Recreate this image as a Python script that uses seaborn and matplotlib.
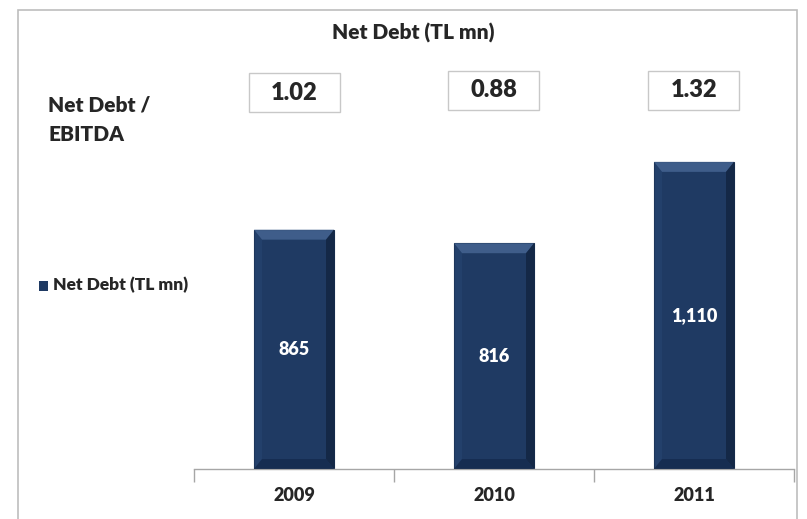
import matplotlib
matplotlib.use("Agg")
import matplotlib.pyplot as plt
import seaborn as sns
import pandas as pd
from matplotlib.patches import Rectangle, Polygon
from matplotlib.transforms import blended_transform_factory

# Dados
years = ["2009", "2010", "2011"]
net_debt = [865, 816, 1110]
net_debt_labels = ["865", "816", "1,110"]
ratio_labels = ["1.02", "0.88", "1.32"]

BAR_COLOR = "#1f3a63"
FONT = ["Lato", "DejaVu Sans"]
W = "heavy"

sns.set_style("white")
plt.rcParams["font.family"] = FONT

df = pd.DataFrame({"Year": years, "Net Debt": net_debt})

fig = plt.figure(figsize=(8.07, 5.19), dpi=100)
ax = fig.add_axes([194 / 807, 50 / 519, 600 / 807, 332 / 519])

sns.barplot(data=df, x="Year", y="Net Debt", color=BAR_COLOR, width=0.4,
            saturation=1, edgecolor="#142a4a", linewidth=0.8, ax=ax)

ax.set_xlim(-0.5, 2.5)
ax.set_ylim(0, 1200)
ax.set_xlabel("")
ax.set_ylabel("")
ax.set_yticks([])
for side in ["top", "left", "right"]:
    ax.spines[side].set_visible(False)
ax.spines["bottom"].set_color("#a6a6a6")
ax.spines["bottom"].set_linewidth(1.0)

# marcas entre categorias
ax.set_xticks([-0.5, 0.5, 1.5, 2.5], minor=True)
ax.tick_params(axis="x", which="minor", bottom=True, length=9, color="#a6a6a6",
               width=1.0, direction="out")
ax.tick_params(axis="x", which="major", length=0, pad=13)
for lbl in ax.get_xticklabels():
    lbl.set_fontweight(W)
    lbl.set_fontsize(13)

# efeito de chanfro nas barras
for patch in ax.patches:
    x0, w, h = patch.get_x(), patch.get_width(), patch.get_height()
    bx, by = w * 0.1, 36
    x1 = x0 + w
    ax.add_patch(Polygon([(x0, h), (x1, h), (x1 - bx, h - by), (x0 + bx, h - by)],
                         closed=True, facecolor="#4a6a98", edgecolor="none", alpha=0.75, zorder=3))
    ax.add_patch(Polygon([(x1, h), (x1, 0), (x1 - bx, by), (x1 - bx, h - by)],
                         closed=True, facecolor="#0c1a30", edgecolor="none", alpha=0.55, zorder=3))
    ax.add_patch(Polygon([(x0, h), (x0, 0), (x0 + bx, by), (x0 + bx, h - by)],
                         closed=True, facecolor="#2b4a78", edgecolor="none", alpha=0.4, zorder=3))
    ax.add_patch(Polygon([(x0, 0), (x1, 0), (x1 - bx, by), (x0 + bx, by)],
                         closed=True, facecolor="#13284a", edgecolor="none", alpha=0.7, zorder=3))

# valores dentro das barras
for i, (v, lab) in enumerate(zip(net_debt, net_debt_labels)):
    ax.text(i, v / 2, lab, ha="center", va="center", color="white",
            fontsize=13, fontweight=W, zorder=4)

# caixas com Net Debt / EBITDA
trans = blended_transform_factory(ax.transData, fig.transFigure)
box_y = [1 - 112 / 519, 1 - 110 / 519, 1 - 110 / 519]
for i, (lab, yb) in enumerate(zip(ratio_labels, box_y)):
    fig.add_artist(Rectangle((i - 0.2275, yb), 0.455, 39 / 519, transform=trans,
                             facecolor="white", edgecolor="#c8c8c8", linewidth=1.0))
    fig.text(i, yb + 19.5 / 519, lab, transform=trans, fontsize=17, fontweight=W,
             ha="center", va="center")

fig.text(413 / 807, 1 - 33 / 519, "Net Debt (TL mn)", ha="center", va="center",
         fontsize=15, fontweight=W)
fig.text(48 / 807, 1 - 105 / 519, "Net Debt /", ha="left", va="center",
         fontsize=15, fontweight=W)
fig.text(48 / 807, 1 - 135 / 519, "EBITDA", ha="left", va="center",
         fontsize=15, fontweight=W)

# legenda
fig.add_artist(Rectangle((39 / 807, 1 - 291 / 519), 9 / 807, 10 / 519,
                         transform=fig.transFigure, facecolor=BAR_COLOR, edgecolor="none"))
fig.text(53 / 807, 1 - 285 / 519, "Net Debt (TL mn)", ha="left", va="center",
         fontsize=12.5, fontweight=W)

# moldura externa
fig.add_artist(Rectangle((18 / 807, -0.05), 779 / 807, 1.05 - 10 / 519,
                         transform=fig.transFigure, facecolor="none",
                         edgecolor="#bdbdbd", linewidth=1.2))

fig.savefig("out.png", dpi=100)
